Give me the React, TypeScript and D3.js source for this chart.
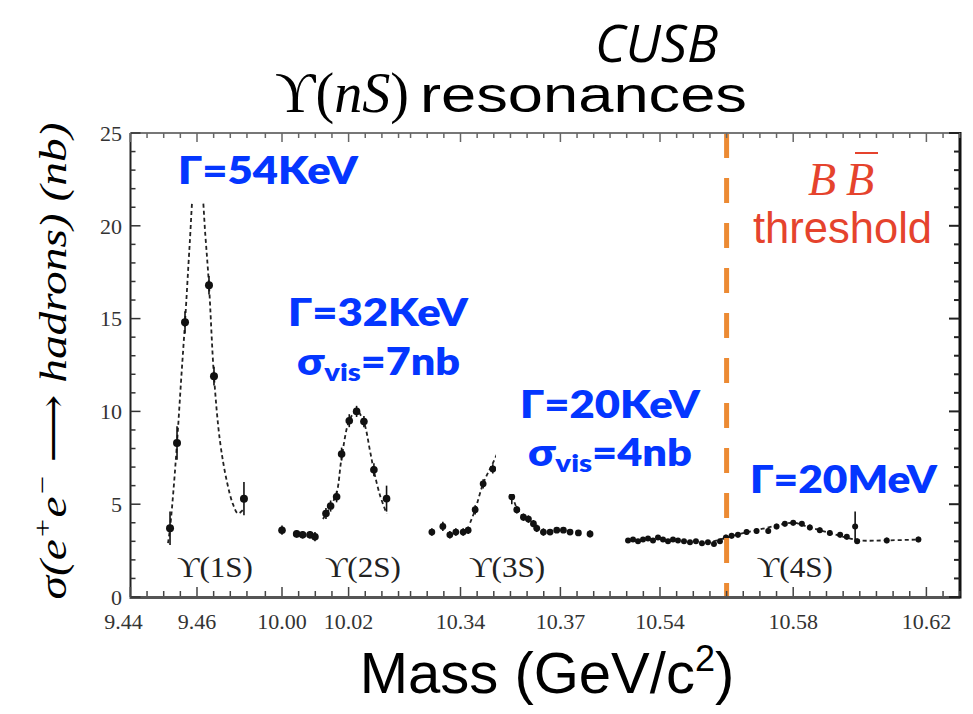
import React from 'react';
import * as d3 from 'd3';

// ---------- data ----------
const MASS_TICKS = [9.44, 9.46, 10.0, 10.02, 10.34, 10.37, 10.54, 10.58, 10.62];
const SIGMA_TICKS = [0, 5, 10, 15, 20, 25];
// broken mass axis: four windows (GeV)
const MASS_SEGMENTS = [
  [9.44, 9.4795],
  [9.994, 10.0384],
  [10.3248, 10.3846],
  [10.5247, 10.6301],
];
const SEGMENT_ANCHORS = [9.46, 10.0, 10.34, 10.54];
const BB_THRESHOLD = 10.56;

// [mass, sigma, error]
const POINTS_1S = [
  [9.4519, 3.7, 0.9], [9.454, 8.3, 0.9], [9.4564, 14.8, 0.6],
  [9.4636, 16.8, 0.5], [9.4651, 11.9, 0.5], [9.4741, 5.3, 0.9],
];
const POINTS_2S = [
  [10.0, 3.6, 0.25], [10.0044, 3.4, 0.2], [10.0062, 3.35, 0.2], [10.0084, 3.35, 0.2],
  [10.0099, 3.25, 0.25], [10.0132, 4.5, 0.3], [10.0146, 4.9, 0.3], [10.0164, 5.4, 0.3],
  [10.0179, 7.7, 0.35], [10.0202, 9.5, 0.35], [10.0224, 10.0, 0.3], [10.0246, 9.45, 0.3],
  [10.0276, 6.85, 0.35], [10.0314, 5.3, 0.7],
];
const POINTS_3S = [
  [10.3314, 3.5, 0.2], [10.3347, 3.8, 0.25], [10.3368, 3.35, 0.2], [10.3386, 3.5, 0.2],
  [10.3408, 3.5, 0.2], [10.3423, 3.6, 0.2], [10.3444, 4.7, 0.25], [10.3468, 6.1, 0.25],
  [10.3497, 6.9, 0.25], [10.3554, 5.4, 0.4], [10.3569, 4.7, 0.2], [10.3589, 4.3, 0.2],
  [10.3604, 4.2, 0.2], [10.3619, 3.95, 0.2], [10.3629, 3.7, 0.2], [10.3649, 3.5, 0.2],
  [10.3669, 3.5, 0.15], [10.3689, 3.6, 0.15], [10.3709, 3.6, 0.15], [10.3729, 3.5, 0.15],
  [10.3754, 3.45, 0.15], [10.3789, 3.4, 0.2],
];
const POINTS_4S = [
  [10.5304, 3.05, 0.12], [10.5319, 3.1, 0.12], [10.5334, 3.0, 0.12], [10.5349, 3.1, 0.12],
  [10.5364, 3.15, 0.12], [10.5379, 3.05, 0.12], [10.5394, 3.2, 0.12], [10.5409, 3.1, 0.12],
  [10.5424, 3.0, 0.12], [10.5439, 3.1, 0.12], [10.5454, 3.05, 0.12], [10.5472, 3.0, 0.12],
  [10.549, 2.95, 0.12], [10.5508, 3.0, 0.12], [10.5526, 2.9, 0.12], [10.5544, 2.95, 0.12],
  [10.5562, 2.85, 0.12], [10.558, 3.0, 0.12],
  [10.5598, 3.2, 0.15], [10.5615, 3.3, 0.15], [10.5634, 3.35, 0.15], [10.566, 3.5, 0.15],
  [10.569, 3.55, 0.15], [10.5725, 3.55, 0.15], [10.575, 3.8, 0.15], [10.5775, 3.95, 0.15],
  [10.58, 4.0, 0.15], [10.5826, 3.95, 0.15], [10.585, 3.75, 0.15], [10.588, 3.6, 0.15],
  [10.591, 3.45, 0.15], [10.5941, 3.35, 0.15], [10.5961, 3.25, 0.15], [10.5986, 3.8, 0.8],
  [10.5992, 3.0, 0.15], [10.6081, 3.05, 0.15], [10.6176, 3.1, 0.15],
];

// fitted line shapes [mass, sigma]
const FIT_1S = [
  [9.4513, 2.9], [9.4519, 3.7], [9.453, 5.9], [9.454, 8.3], [9.4552, 11.6], [9.4564, 14.8],
  [9.4578, 19.0], [9.459, 22.3], [9.46, 23.3], [9.4612, 22.5], [9.4625, 19.5], [9.4636, 16.8],
  [9.4651, 11.9], [9.4669, 8.4], [9.469, 6.2], [9.4708, 5.0], [9.4723, 4.5], [9.4738, 4.7],
];
const FIT_2S = [
  [10.0123, 4.2], [10.0146, 4.9], [10.0164, 5.6], [10.0179, 7.5], [10.0202, 9.5],
  [10.0224, 10.05], [10.0246, 9.4], [10.0264, 7.9], [10.0276, 6.8], [10.0294, 5.5], [10.0314, 4.5],
];
const FIT_3S = [
  [10.3429, 4.0], [10.3444, 4.7], [10.3468, 6.1], [10.3497, 7.2], [10.3519, 7.9],
  [10.3537, 7.0], [10.3554, 5.6], [10.3569, 4.8], [10.3589, 4.3], [10.3609, 4.0], [10.363, 3.7],
];
const FIT_4S = [
  [10.556, 3.0], [10.56, 3.2], [10.564, 3.4], [10.569, 3.6], [10.575, 3.85], [10.58, 4.0],
  [10.585, 3.75], [10.591, 3.45], [10.596, 3.2], [10.6, 3.05], [10.608, 3.05], [10.618, 3.1],
];

const RESONANCE_LABELS = ['ϒ(1S)', 'ϒ(2S)', 'ϒ(3S)', 'ϒ(4S)'];
const RESONANCE_LABEL_MASS = [9.4654, 10.0243, 10.354, 10.5805];
const WIDTH_TEXTS = ['Γ=54KeV', 'Γ=32KeV', 'Γ=20KeV', 'Γ=20MeV'];
const VIS_TEXTS = ['=7nb', '=4nb'];

// ---------- layout ----------
const W = 973;
const H = 714;
const LEFT = 130.5;
const RIGHT = 960;
const TOP = 133;
const BOTTOM = 597;
const PX_PER_GEV = 3330;
const ANCHOR_PX = [197, 282, 460.5, 660];
const BLUE = '#0436FF';
const RED = '#E5432D';
const ORANGE = '#EC8A33';
const SERIF = "'Liberation Serif', 'DejaVu Serif', serif";

const segDomain: number[] = [];
const segRange: number[] = [];
MASS_SEGMENTS.forEach((s, i) => {
  s.forEach((m) => {
    segDomain.push(m);
    segRange.push(ANCHOR_PX[i] + (m - SEGMENT_ANCHORS[i]) * PX_PER_GEV);
  });
});
const x = d3.scaleLinear().domain(segDomain).range(segRange);
const y = d3.scaleLinear().domain([0, 25]).range([BOTTOM, TOP]);

const line = d3
  .line<number[]>()
  .x((d) => x(d[0]))
  .y((d) => y(d[1]))
  .curve(d3.curveCatmullRom);

// minor mass ticks every 5 MeV inside each window
const massMinor: number[] = [];
MASS_SEGMENTS.forEach(([a, b]) => {
  for (let k = Math.ceil(a * 200 - 1e-6); k <= Math.floor(b * 200 + 1e-6); k++) {
    massMinor.push(k / 200);
  }
});
const isMajor = (m: number) => MASS_TICKS.some((t) => Math.abs(t - m) < 1e-6);

function Points({ data, r }: { data: number[][]; r: number }) {
  return (
    <g>
      {data.map((d, i) => (
        <g key={i}>
          <line x1={x(d[0])} x2={x(d[0])} y1={y(d[1] - d[2])} y2={y(d[1] + d[2])} stroke="#111" strokeWidth={1.6} />
          <circle cx={x(d[0])} cy={y(d[1])} r={r} fill="#111" />
        </g>
      ))}
    </g>
  );
}

function Fit({ data }: { data: number[][] }) {
  return <path d={line(data) || ''} fill="none" stroke="#222" strokeWidth={1.8} strokeDasharray="4 3" />;
}

export default function App() {
  const fitArr = [FIT_1S, FIT_2S, FIT_3S, FIT_4S];
  const gammaPos = [
    [178, 184, 180],
    [288, 326, 180],
    [520, 418, 180],
    [750, 493, 187],
  ];
  const visPos = [
    [297, 375, 163],
    [528, 466, 164],
  ];
  return (
    <svg width={W} height={H} style={{ position: 'absolute', left: 0, top: 0, background: '#fff' }}>
      <rect x={0} y={0} width={W} height={H} fill="#fff" />

      {/* data */}
      {fitArr.map((f, i) => (
        <Fit key={i} data={f} />
      ))}
      <Points data={POINTS_1S} r={4} />
      <Points data={POINTS_2S} r={3.8} />
      <Points data={POINTS_3S} r={3.4} />
      <Points data={POINTS_4S} r={3} />

      {/* threshold line */}
      <line
        x1={x(BB_THRESHOLD)}
        x2={x(BB_THRESHOLD)}
        y1={TOP}
        y2={BOTTOM}
        stroke={ORANGE}
        strokeWidth={5}
        strokeDasharray="25 20"
      />

      {/* annotation backgrounds */}
      <rect x={170} y={138} width={196} height={63} fill="#fff" />
      <rect x={496} y={380} width={214} height={114} fill="#fff" />

      {/* frame */}
      <line x1={LEFT} x2={RIGHT} y1={TOP} y2={TOP} stroke="#777" strokeWidth={2} />
      <line x1={LEFT} x2={LEFT} y1={TOP} y2={BOTTOM} stroke="#222" strokeWidth={2} />
      <line x1={RIGHT} x2={RIGHT} y1={TOP - 1} y2={BOTTOM + 1.5} stroke="#111" strokeWidth={3} />
      <line x1={LEFT - 1} x2={RIGHT} y1={BOTTOM + 0.5} y2={BOTTOM + 0.5} stroke="#555" strokeWidth={3} />

      {/* y ticks */}
      {d3.range(0, 26).map((v) => {
        const len = v % 5 === 0 ? 10 : 5;
        return (
          <g key={v}>
            <line x1={LEFT} x2={LEFT + len} y1={y(v)} y2={y(v)} stroke="#333" strokeWidth={1.5} />
            <line x1={RIGHT} x2={RIGHT - len - 1} y1={y(v)} y2={y(v)} stroke="#222" strokeWidth={2} />
          </g>
        );
      })}
      {SIGMA_TICKS.map((v) => (
        <text key={v} x={122} y={y(v)} dy="0.35em" textAnchor="end" fontFamily={SERIF} fontSize={22} fill="#333">
          {v}
        </text>
      ))}

      {/* x ticks */}
      {massMinor.map((m, i) => {
        const len = isMajor(m) ? 9 : 5;
        return (
          <g key={i}>
            <line x1={x(m)} x2={x(m)} y1={BOTTOM - 1} y2={BOTTOM - 1 - len} stroke="#444" strokeWidth={1.5} />
            <line x1={x(m)} x2={x(m)} y1={TOP} y2={TOP + len} stroke="#666" strokeWidth={1.5} />
          </g>
        );
      })}
      {MASS_TICKS.map((m, i) => (
        <text
          key={m}
          x={x(m) - (i === 0 ? 7 : 0)}
          y={629}
          textAnchor="middle"
          fontFamily={SERIF}
          fontSize={22}
          fill="#333"
        >
          {d3.format('.2f')(m)}
        </text>
      ))}

      {/* resonance labels */}
      {RESONANCE_LABELS.map((t, i) => (
        <text
          key={t}
          x={x(RESONANCE_LABEL_MASS[i])}
          y={577}
          textAnchor="middle"
          fontFamily={SERIF}
          fontSize={30}
          fill="#222"
          textLength={76}
          lengthAdjust="spacingAndGlyphs"
        >
          {t}
        </text>
      ))}

      {/* blue annotations */}
      {WIDTH_TEXTS.map((t, i) => (
        <text
          key={t}
          x={gammaPos[i][0]}
          y={gammaPos[i][1]}
          fontFamily="Lato"
          fontWeight={800}
          fontSize={37}
          fill={BLUE}
          textLength={gammaPos[i][2]}
          lengthAdjust="spacingAndGlyphs"
        >
          {t}
        </text>
      ))}
      {VIS_TEXTS.map((t, i) => (
        <text
          key={t}
          x={visPos[i][0]}
          y={visPos[i][1]}
          fontFamily="Lato"
          fontWeight={800}
          fontSize={37}
          fill={BLUE}
          textLength={visPos[i][2]}
          lengthAdjust="spacingAndGlyphs"
        >
          σ
          <tspan fontSize={25} dy={6}>
            vis
          </tspan>
          <tspan dy={-6}>{t}</tspan>
        </text>
      ))}

      {/* BB threshold */}
      <text x={808} y={195} fontFamily={SERIF} fontStyle="italic" fontSize={46} fill={RED}>
        B
      </text>
      <text x={846} y={195} fontFamily={SERIF} fontStyle="italic" fontSize={46} fill={RED}>
        B
      </text>
      <line x1={855} x2={878} y1={153} y2={153} stroke={RED} strokeWidth={2} />
      <text
        x={753}
        y={243}
        fontFamily="Liberation Sans"
        fontSize={44}
        fill={RED}
        textLength={179}
        lengthAdjust="spacingAndGlyphs"
      >
        threshold
      </text>

      {/* titles */}
      <text x={595} y={62} fontFamily="Open Sans" fontStyle="italic" fontSize={52} fill="#000">
        CUSB
      </text>
      <text x={275} y={112} fontFamily={SERIF} fontSize={56} fill="#000" textLength={134} lengthAdjust="spacingAndGlyphs">
        ϒ(<tspan fontStyle="italic">nS</tspan>)
      </text>
      <text
        x={420}
        y={112}
        fontFamily="Liberation Sans"
        fontSize={50}
        fill="#000"
        textLength={327}
        lengthAdjust="spacingAndGlyphs"
      >
        resonances
      </text>

      {/* axis titles */}
      <text x={547} y={693} textAnchor="middle" fontFamily="Liberation Sans" fontSize={58} fill="#000">
        Mass (GeV/c
        <tspan fontSize={36} dy={-22}>
          2
        </tspan>
        <tspan dy={22}>)</tspan>
      </text>
      <text
        transform="translate(66,361) rotate(-90)"
        textAnchor="middle"
        fontFamily={SERIF}
        fontStyle="italic"
        fontSize={38}
        fill="#000"
        textLength={477}
        lengthAdjust="spacingAndGlyphs"
      >
        σ(e
        <tspan fontSize={26} dy={-15}>
          +
        </tspan>
        <tspan dy={15}>e</tspan>
        <tspan fontSize={26} dy={-15}>
          −
        </tspan>
        <tspan dy={15} fontStyle="normal">
          {' ⟶ '}
        </tspan>
        <tspan>hadrons) (nb)</tspan>
      </text>
    </svg>
  );
}
